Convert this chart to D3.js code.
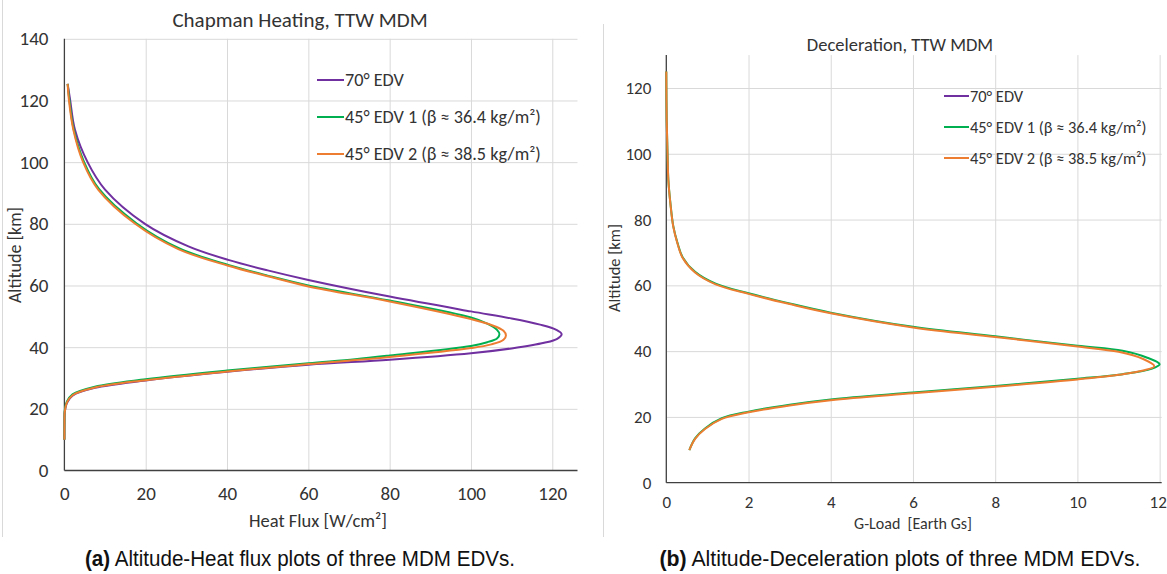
<!DOCTYPE html>
<html>
<head>
<meta charset="utf-8">
<script src="https://cdn.jsdelivr.net/npm/d3@7"></script>
<style>
  body { margin: 0; background: #fff; }
  svg { display: block; font-family: Carlito, Lato, sans-serif; }
  .grid line { stroke: #d9d9d9; stroke-width: 1; }
  .grid path { display: none; }
  .tick text { fill: #333; }
  .caption { font-family: "Liberation Sans", Arial, sans-serif; font-size: 22px; fill: #111; }
</style>
</head>
<body>
<svg id="fig" width="1167" height="574"></svg>
<script>
// series names + colours (shared by both panels)
var seriesNames = ["70° EDV", "45° EDV 1 (β ≈ 36.4 kg/m²)", "45° EDV 2 (β ≈ 38.5 kg/m²)"];
var seriesColors = ["#7030a0", "#00b050", "#ed7d31"];

// panel (a): [heat flux W/cm², altitude km]
var heat70 = [[0.8,125.4],[1.4,120.3],[2.6,110.5],[5.7,100],[10.0,91.1],[19.8,80],[30.5,72.7],[40.3,68.3],[50,64.9],[60,61.8],[80,56.4],[100,51.6],[110,49.3],[117,47.3],[121,45.6],[122.3,44.2],[121.2,42.7],[118,41.4],[110,39.6],[100,38.0],[80,35.9],[60,34.3],[40,32.0],[20,29.2],[7.5,26.8],[2,24.3],[0.6,21.9],[0.1,19],[0.02,15],[0,10]];
var heat45a = [[0.8,125.4],[1.2,120.4],[2.3,110.6],[4.8,100.2],[8.5,91.3],[17.7,80.2],[28.3,72.0],[40.5,66.6],[50,63.2],[60,60],[80,55.1],[100,49.6],[104,47.6],[106.4,45.6],[107,44.2],[106.4,42.8],[104,41.6],[100,40.4],[80,37.3],[71.5,36.1],[60,34.8],[40,32.4],[20,29.6],[7.5,27.2],[2,24.7],[0.6,22.3],[0.1,19.6],[0.02,15.5],[0,10]];
var heat45b = [[0.8,125.4],[1.1,120.3],[2.2,110.5],[4.6,100],[8.3,91.1],[17.4,80],[28,71.8],[40.3,66.4],[50,63],[60,59.7],[80,54.8],[100,49.1],[105,47.2],[108,45.3],[108.6,43.8],[108,42.4],[105,40.9],[100,39.7],[80,36.8],[60,34.5],[40,32.1],[20,29.3],[7.5,26.9],[2,24.4],[0.6,22],[0.1,19.2],[0.02,15],[0,10]];

// panel (b): [g-load, altitude km]  (70° series sits under the others, not visible)
var gload45a = [[0,125],[0.01,110],[0.03,100],[0.05,92],[0.1,85],[0.17,78],[0.27,73],[0.4,68.5],[0.7,64.1],[1.2,60.5],[2.0,57.6],[3.0,54.5],[4.0,51.7],[6.0,47.4],[8.0,44.5],[10.0,41.6],[11.1,40.1],[11.7,38.0],[12.0,36.0],[11.8,34.6],[11.1,33.0],[10.0,31.6],[8.0,29.4],[6.0,27.4],[4.0,25.3],[3.0,23.7],[2.0,21.6],[1.35,19.6],[0.94,16.5],[0.7,13.5],[0.56,9.9]];
var gload45b = [[0,125],[0.01,110],[0.03,100],[0.05,92],[0.1,84.8],[0.17,77.8],[0.27,72.8],[0.4,68.3],[0.7,63.9],[1.2,60.3],[2.0,57.4],[3.0,54.3],[4.0,51.5],[6.0,47.2],[8.0,44.3],[10.0,41.4],[11.0,39.8],[11.6,37.6],[11.87,35.4],[11.6,34.1],[11.0,32.8],[10.0,31.4],[8.0,29.2],[6.0,27.2],[4.0,25.1],[3.0,23.5],[2.0,21.4],[1.35,19.4],[0.94,16.3],[0.7,13.3],[0.56,9.9]];

var heatTicksX = [0,20,40,60,80,100,120];
var heatTicksY = [0,20,40,60,80,100,120,140];
var gTicksX = [0,2,4,6,8,10,12];
var gTicksY = [0,20,40,60,80,100,120];

var svg = d3.select("#fig");

// light chart-area borders
svg.append("line").attr("x1",2.5).attr("x2",2.5).attr("y1",0).attr("y2",537).attr("stroke","#d9d9d9");
svg.append("line").attr("x1",603.5).attr("x2",603.5).attr("y1",24).attr("y2",537).attr("stroke","#d9d9d9");

var drawPanel = function(p)
{
    var xScale = d3.scaleLinear().domain(p.xDomain).range([p.left, p.right]);
    var yScale = d3.scaleLinear().domain(p.yDomain).range([p.bottom, p.top]);
    var g = svg.append("g");

    g.append("g").attr("class","grid")
        .attr("transform","translate(0,"+p.bottom+")")
        .call(d3.axisBottom(xScale).tickValues(p.xTicks.slice(1)).tickSize(p.top-p.bottom).tickFormat(""));
    g.append("g").attr("class","grid")
        .attr("transform","translate("+p.left+",0)")
        .call(d3.axisLeft(yScale).tickValues(p.yTicks.slice(1)).tickSize(p.left-p.right).tickFormat(""));

    // axis lines
    g.append("line").attr("x1",p.left).attr("x2",p.right).attr("y1",p.bottom).attr("y2",p.bottom)
        .attr("stroke","#404040").attr("stroke-width",1.3);
    g.append("line").attr("x1",p.left).attr("x2",p.left).attr("y1",p.top).attr("y2",p.bottom)
        .attr("stroke","#404040").attr("stroke-width",1.3);

    var xAxis = g.append("g").attr("transform","translate(0,"+p.bottom+")")
        .call(d3.axisBottom(xScale).tickValues(p.xTicks).tickSize(0).tickPadding(p.xPad));
    xAxis.select(".domain").remove();
    xAxis.selectAll("text").attr("font-size",p.tickFont).attr("font-family","Carlito, Lato, sans-serif");
    // keep the last label inside the page edge
    xAxis.selectAll("text").filter(function(d) { return d === p.xTicks[p.xTicks.length-1]; })
        .attr("dx",p.lastDx);

    var yAxis = g.append("g").attr("transform","translate("+p.left+",0)")
        .call(d3.axisLeft(yScale).tickValues(p.yTicks).tickSize(0).tickPadding(p.yPad));
    yAxis.select(".domain").remove();
    yAxis.selectAll("text").attr("font-size",p.tickFont).attr("font-family","Carlito, Lato, sans-serif");

    var line = d3.line()
        .x(function(d) { return xScale(d[0]); })
        .y(function(d) { return yScale(d[1]); })
        .curve(d3.curveCatmullRom.alpha(0.5));

    p.series.forEach(function(s)
    {
        g.append("path")
            .datum(s.data)
            .attr("fill","none")
            .attr("stroke",seriesColors[s.idx])
            .attr("stroke-width",2)
            .attr("d",line);
    });

    g.append("text").text(p.title)
        .attr("x",p.titleX).attr("y",p.titleY)
        .attr("text-anchor","middle").attr("font-size",p.titleFont).attr("fill","#333");

    g.append("text").text(p.xLabel)
        .attr("x",p.xLabelX).attr("y",p.xLabelY)
        .attr("text-anchor","middle").attr("font-size",p.labelFont).attr("fill","#333")
        .attr("xml:space","preserve");

    g.append("text").text("Altitude [km]")
        .attr("transform","translate("+p.yLabelX+","+p.yLabelY+") rotate(-90)")
        .attr("text-anchor","middle").attr("font-size",p.yLabelFont).attr("fill","#333");

    var legend = g.append("g")
        .attr("transform","translate("+p.legendX+","+p.legendY+")");
    var entries = legend.selectAll("g")
        .data(seriesNames)
        .enter()
        .append("g")
        .attr("transform",function(d,i) { return "translate(0,"+i*p.legendStep+")"; });
    entries.append("line")
        .attr("x1",0).attr("x2",p.legendLine).attr("y1",0).attr("y2",0)
        .attr("stroke",function(d,i) { return seriesColors[i]; })
        .attr("stroke-width",2);
    entries.append("text")
        .text(function(d) { return d; })
        .attr("x",p.legendLine+1).attr("y",0).attr("dy","0.35em")
        .attr("font-size",p.legendFont).attr("fill","#333");
};

drawPanel({
    left:64.4, right:577.5, top:38.8, bottom:470.5,
    xDomain:[0,126.2], yDomain:[0,140],
    xTicks:heatTicksX, yTicks:heatTicksY,
    tickFont:19, xPad:16.5, yPad:16, lastDx:0,
    title:"Chapman Heating, TTW MDM", titleX:300, titleY:27, titleFont:21,
    xLabel:"Heat Flux [W/cm²]", xLabelX:318, xLabelY:527, labelFont:18.5,
    yLabelX:21, yLabelY:255, yLabelFont:18,
    legendX:317, legendY:80, legendStep:37, legendLine:27, legendFont:18.2,
    series:[{idx:0,data:heat70},{idx:1,data:heat45a},{idx:2,data:heat45b}]
});

drawPanel({
    left:666.3, right:1161.7, top:55.1, bottom:482.7,
    xDomain:[0,12.05], yDomain:[0,130],
    xTicks:gTicksX, yTicks:gTicksY,
    tickFont:17, xPad:13.5, yPad:15, lastDx:-2,
    title:"Deceleration, TTW MDM", titleX:900, titleY:51, titleFont:18.5,
    xLabel:"G-Load  [Earth Gs]", xLabelX:913, xLabelY:529, labelFont:16,
    yLabelX:620, yLabelY:268, yLabelFont:16.5,
    legendX:944, legendY:96, legendStep:31, legendLine:25, legendFont:16.4,
    series:[{idx:1,data:gload45a},{idx:2,data:gload45b}]
});

// figure captions
var capA = svg.append("text").attr("class","caption").attr("x",300).attr("y",566)
    .attr("text-anchor","middle").attr("textLength",430).attr("lengthAdjust","spacingAndGlyphs");
capA.append("tspan").attr("font-weight","bold").text("(a)");
capA.append("tspan").text(" Altitude-Heat flux plots of three MDM EDVs.");
var capB = svg.append("text").attr("class","caption").attr("x",900).attr("y",566)
    .attr("text-anchor","middle").attr("textLength",481).attr("lengthAdjust","spacingAndGlyphs");
capB.append("tspan").attr("font-weight","bold").text("(b)");
capB.append("tspan").text(" Altitude-Deceleration plots of three MDM EDVs.");
</script>
</body>
</html>
